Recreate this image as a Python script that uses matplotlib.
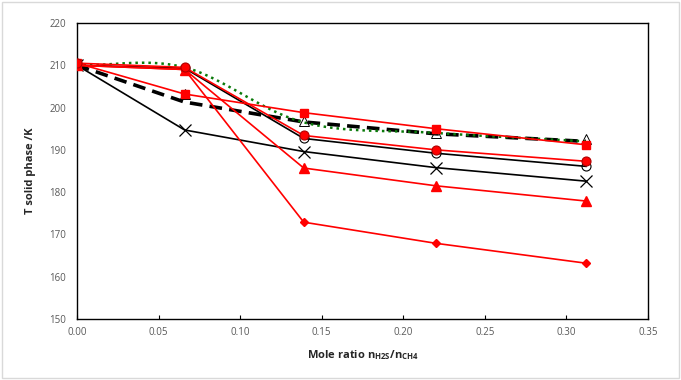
import matplotlib
matplotlib.use("Agg")
import matplotlib.pyplot as plt
import numpy as np

plt.rcParams["font.family"] = ["Open Sans", "DejaVu Sans"]
plt.rcParams["mathtext.fontset"] = "custom"
plt.rcParams["mathtext.bf"] = "Open Sans:bold"
plt.rcParams["mathtext.rm"] = "Open Sans"

# mole ratio values
x = [0.0, 0.066, 0.139, 0.22, 0.312]

red_square = [210.5, 203.2, 198.8, 195.0, 191.2]
red_diamond = [210.0, 209.0, 172.9, 167.9, 163.2]
red_triangle = [210.0, 209.0, 185.7, 181.5, 177.9]
red_circle = [210.5, 209.5, 193.4, 190.0, 187.3]
black_circle = [210.0, 209.3, 192.7, 189.2, 186.1]
black_x = [210.0, 194.7, 189.6, 185.8, 182.6]
black_dashed = [210.0, 201.3, 196.6, 193.8, 192.0]
open_triangle = [210.0, 203.3, 196.8, 194.0, 192.5]
green_dotted = [210.0, 209.5, 196.5, 194.0, 192.0]


def smooth(xs, ys, n=30):
    # Excel-like smoothed line (Catmull-Rom through the data points)
    xs = np.asarray(xs, float)
    ys = np.asarray(ys, float)
    px = np.concatenate([[2 * xs[0] - xs[1]], xs, [2 * xs[-1] - xs[-2]]])
    py = np.concatenate([[2 * ys[0] - ys[1]], ys, [2 * ys[-1] - ys[-2]]])
    ox, oy = [], []
    for i in range(1, len(px) - 2):
        t = np.linspace(0, 1, n)
        for arr, out in ((px, ox), (py, oy)):
            p0, p1, p2, p3 = arr[i - 1], arr[i], arr[i + 1], arr[i + 2]
            out.extend(0.5 * ((2 * p1) + (-p0 + p2) * t
                              + (2 * p0 - 5 * p1 + 4 * p2 - p3) * t ** 2
                              + (-p0 + 3 * p1 - 3 * p2 + p3) * t ** 3))
    return ox, oy


fig = plt.figure(figsize=(6.81, 3.8), dpi=100)
ax = fig.add_axes([0.113, 0.1605, 0.8385, 0.779])

red = "#ff0000"
lw = 1.2

gx, gy = smooth(x, green_dotted)
ax.plot(x, black_dashed, color="black", linestyle=(0, (3.5, 2)), linewidth=2.6, zorder=3)
ax.plot(gx, gy, color="#0a7a0a", linestyle=(0, (1, 1.6)), linewidth=1.8, zorder=3.5)
ax.plot(x, open_triangle, linestyle="none", marker="^", markersize=6.5,
        markerfacecolor="none", markeredgecolor="black", markeredgewidth=0.7, zorder=4)
ax.plot(x, black_x, color="black", linewidth=lw, marker="x", markersize=8,
        markeredgewidth=0.9, zorder=4)
ax.plot(x, black_circle, color="black", linewidth=lw, marker="o", markersize=6.5,
        markerfacecolor="none", markeredgecolor="black", markeredgewidth=0.8, zorder=4)
ax.plot(x, red_square, color=red, linewidth=lw, marker="s", markersize=6, zorder=5)
ax.plot(x, red_diamond, color=red, linewidth=lw, marker="D", markersize=4.5, zorder=5)
ax.plot(x, red_triangle, color=red, linewidth=lw, marker="^", markersize=6.5, zorder=5)
ax.plot(x, red_circle, color=red, linewidth=lw, marker="o", markersize=6.5,
        markeredgecolor="#b00000", markeredgewidth=0.8, zorder=5)

ax.set_xlim(0, 0.35)
ax.set_ylim(150, 220)
ax.set_xticks(np.arange(0, 0.351, 0.05))
ax.set_yticks(np.arange(150, 221, 10))
ax.set_xticklabels(["%.2f" % v for v in np.arange(0, 0.351, 0.05)])
ax.tick_params(axis="both", labelsize=7, colors="black", labelcolor="#595959",
               direction="in", width=0.8)
ax.tick_params(axis="x", length=3, pad=6)
ax.tick_params(axis="y", length=0, pad=8)
for s in ax.spines.values():
    s.set_linewidth(1.0)
    s.set_color("black")

ax.set_xlabel(r"Mole ratio n$_{\mathbf{H2S}}$/n$_{\mathbf{CH4}}$", fontsize=8,
              fontweight="bold", color="#262626", labelpad=7)
ax.set_ylabel("T solid phase /K", fontsize=8, fontweight="bold", color="#262626",
              labelpad=9)

fig.patches.append(plt.Rectangle((0.003, 0.005), 0.994, 0.99, transform=fig.transFigure,
                                 fill=False, edgecolor="#d9d9d9", linewidth=1.0))

fig.savefig("out.png", dpi=100)
